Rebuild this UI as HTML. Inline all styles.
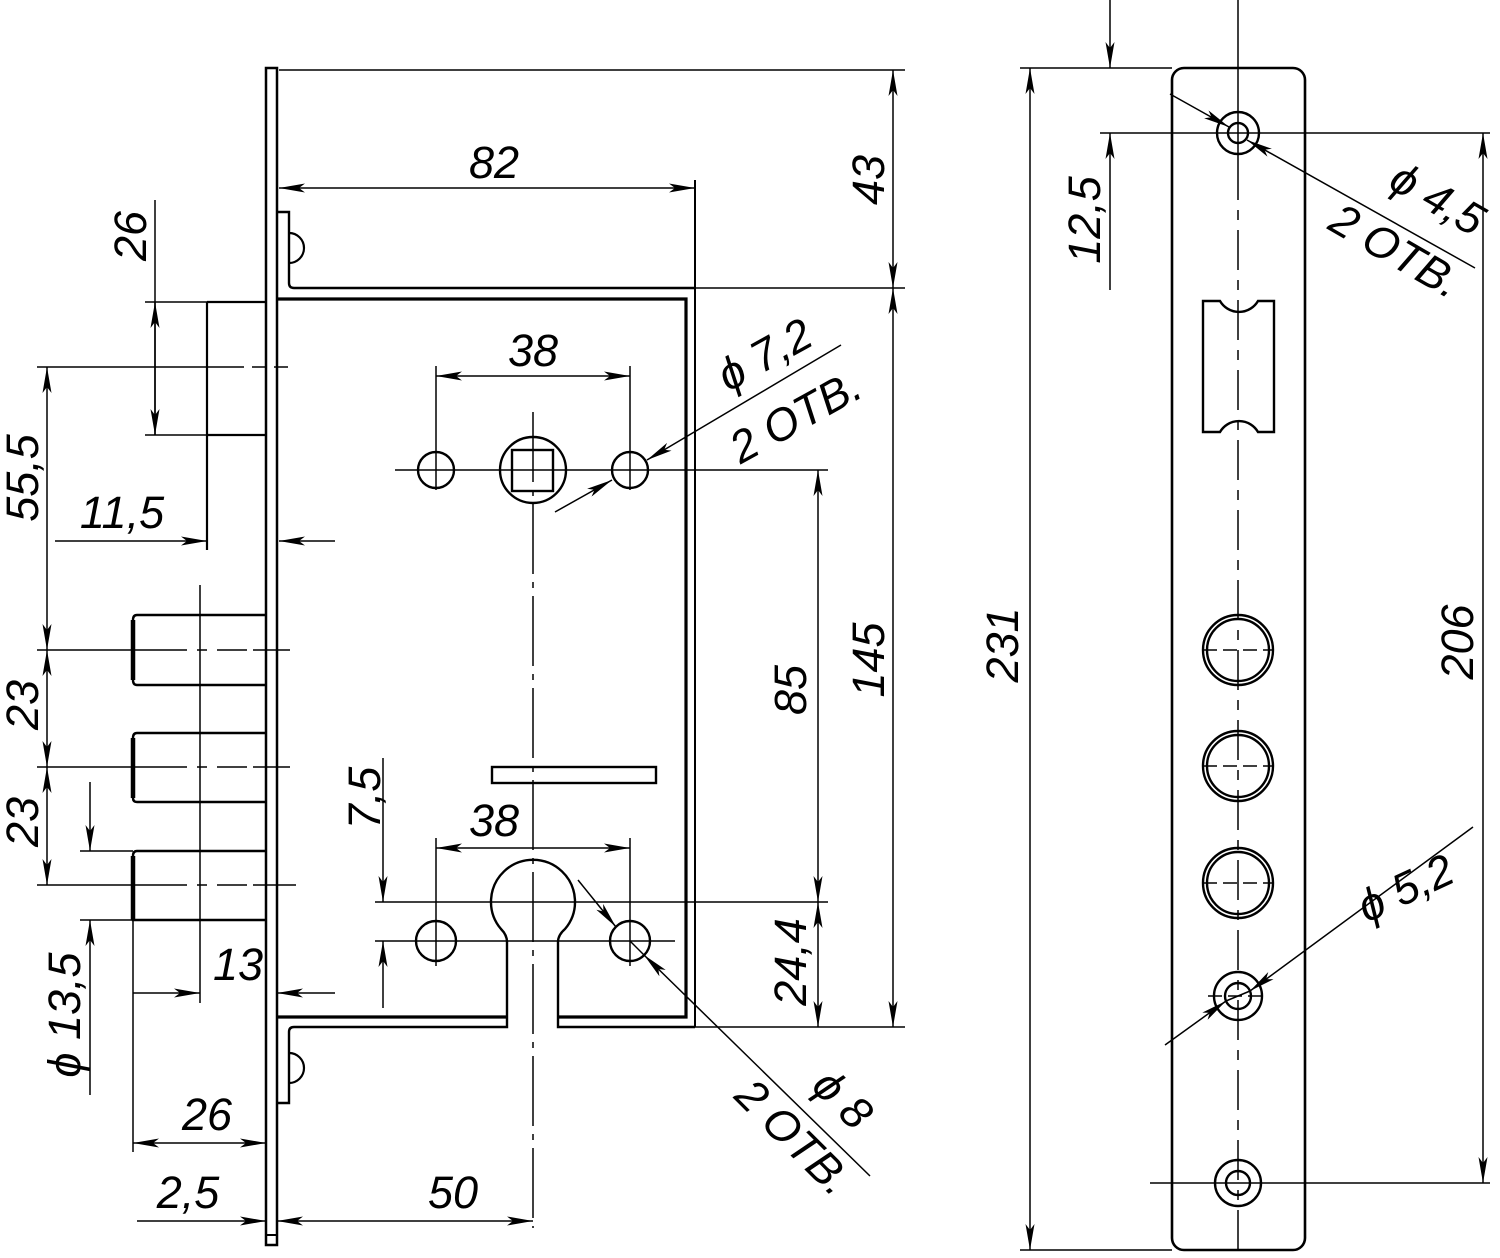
<!DOCTYPE html>
<html><head><meta charset="utf-8"><style>
html,body{margin:0;padding:0;background:#fff}
svg{display:block}
text{font-family:"Liberation Sans",sans-serif;font-style:italic;font-size:45px;fill:#000}
</style></head><body>
<svg width="1500" height="1258" viewBox="0 0 1500 1258" xmlns="http://www.w3.org/2000/svg">
<defs>
<marker id="a" viewBox="0 0 26 9" refX="26" refY="4.5" markerWidth="26" markerHeight="9" markerUnits="userSpaceOnUse" orient="auto-start-reverse">
<path d="M0,0 L26,4.5 L0,9 L6,4.5 z" fill="#000"/></marker>
</defs>
<g fill="none" stroke="#000" stroke-width="1.8">
<!-- LEFT VIEW -->
<rect x="266" y="68" width="11" height="1177" stroke-width="2.5"/>
<line x1="266" y1="1235" x2="277" y2="1235" stroke-width="2"/>
<path d="M277,212 H289 V283 Q289,288 294,288 H695" stroke-width="2.4"/>
<path d="M289,233 A15,15 0 0 1 289,263" stroke-width="2.2"/>
<path d="M277,299 H686 V1017 H558" stroke-width="3.2"/>
<path d="M277,1017 H507" stroke-width="3.2"/>
<path d="M277,1103 H289 V1032 Q289,1027 294,1027 H507 V942 Q507,935 501,929 A42,42 0 1 1 565,929 Q558,935 558,942 V1027 H695" stroke-width="2.4"/>
<path d="M289,1053 A15,15 0 0 1 289,1083" stroke-width="2.2"/>
<line x1="695" y1="180" x2="695" y2="1027" stroke-width="2"/>
<rect x="492" y="767" width="164" height="16" stroke-width="2.4"/>
<circle cx="436" cy="470" r="18" stroke-width="2.4"/>
<circle cx="630" cy="470" r="18" stroke-width="2.4"/>
<circle cx="533" cy="470" r="33" stroke-width="2.4"/>
<rect x="512" y="450" width="41" height="41" stroke-width="2.4"/>
<circle cx="436" cy="941" r="20" stroke-width="2.4"/>
<circle cx="630" cy="941" r="20" stroke-width="2.4"/>
<line x1="395" y1="470" x2="828" y2="470" stroke-width="1.5"/>
<line x1="533" y1="412" x2="533" y2="1228" stroke-width="1.5" stroke-dasharray="70,8,6,8"/>
<line x1="436" y1="366" x2="436" y2="490" stroke-width="1.5"/>
<line x1="630" y1="366" x2="630" y2="490" stroke-width="1.5"/>
<line x1="375" y1="902" x2="828" y2="902" stroke-width="1.5"/>
<line x1="375" y1="941" x2="675" y2="941" stroke-width="1.5"/>
<line x1="436" y1="838" x2="436" y2="966" stroke-width="1.5"/>
<line x1="630" y1="838" x2="630" y2="966" stroke-width="1.5"/>
<line x1="279" y1="70" x2="905" y2="70" stroke-width="1.5"/>
<line x1="695" y1="288" x2="905" y2="288" stroke-width="1.5"/>
<line x1="695" y1="1027" x2="905" y2="1027" stroke-width="1.5"/>
<line x1="893" y1="70" x2="893" y2="288" stroke-width="1.5" marker-start="url(#a)" marker-end="url(#a)"/>
<line x1="893" y1="288" x2="893" y2="1027" stroke-width="1.5" marker-start="url(#a)" marker-end="url(#a)"/>
<line x1="279" y1="188" x2="695" y2="188" stroke-width="1.5" marker-start="url(#a)" marker-end="url(#a)"/>
<line x1="436" y1="376" x2="630" y2="376" stroke-width="1.5" marker-start="url(#a)" marker-end="url(#a)"/>
<line x1="436" y1="848" x2="630" y2="848" stroke-width="1.5" marker-start="url(#a)" marker-end="url(#a)"/>
<line x1="818" y1="470" x2="818" y2="902" stroke-width="1.5" marker-start="url(#a)" marker-end="url(#a)"/>
<line x1="818" y1="902" x2="818" y2="1027" stroke-width="1.5" marker-start="url(#a)" marker-end="url(#a)"/>
<line x1="383" y1="758" x2="383" y2="902" stroke-width="1.5" marker-end="url(#a)"/>
<line x1="383" y1="1008" x2="383" y2="941" stroke-width="1.5" marker-end="url(#a)"/>
<line x1="555" y1="512" x2="612" y2="480" stroke-width="1.5" marker-end="url(#a)"/>
<line x1="841" y1="345" x2="647" y2="460" stroke-width="1.5" marker-end="url(#a)"/>
<line x1="578" y1="880" x2="616" y2="927" stroke-width="1.5" marker-end="url(#a)"/>
<line x1="870" y1="1176" x2="644" y2="955" stroke-width="1.5" marker-end="url(#a)"/>
<line x1="630" y1="941" x2="645" y2="956" stroke-width="1.5"/>
<path d="M207,302 H266 M207,435 H266" stroke-width="2.2"/>
<line x1="207" y1="302" x2="207" y2="550" stroke-width="2.2"/>
<line x1="145" y1="302" x2="207" y2="302" stroke-width="1.5"/>
<line x1="145" y1="435" x2="207" y2="435" stroke-width="1.5"/>
<line x1="155" y1="200" x2="155" y2="435" stroke-width="1.5" marker-end="url(#a)"/>
<line x1="155" y1="435" x2="155" y2="302" stroke-width="1.5" marker-end="url(#a)"/>
<line x1="37" y1="367" x2="230" y2="367" stroke-width="1.5"/>
<line x1="230" y1="367" x2="290" y2="367" stroke-width="1.5" stroke-dasharray="14,8"/>
<line x1="47" y1="367" x2="47" y2="650" stroke-width="1.5" marker-start="url(#a)" marker-end="url(#a)"/>
<line x1="47" y1="650" x2="47" y2="767" stroke-width="1.5" marker-start="url(#a)" marker-end="url(#a)"/>
<line x1="47" y1="767" x2="47" y2="885" stroke-width="1.5" marker-start="url(#a)" marker-end="url(#a)"/>
<line x1="55" y1="541" x2="207" y2="541" stroke-width="1.5" marker-end="url(#a)"/>
<line x1="335" y1="541" x2="279" y2="541" stroke-width="1.5" marker-end="url(#a)"/>
<path d="M266,615 H137 Q133,615 133,620 V680 Q133,685 137,685 H266" stroke-width="2.4"/>
<path d="M266,733 H137 Q133,733 133,738 V798 Q133,802 137,802 H266" stroke-width="2.4"/>
<path d="M266,851 H137 Q133,851 133,856 V920 H266" stroke-width="2.4"/>
<path d="M133,620 V680 M133,738 V798 M133,856 V920" stroke-width="4.5"/>
<line x1="200" y1="585" x2="200" y2="1003" stroke-width="1.5"/>
<line x1="37" y1="650" x2="290" y2="650" stroke-width="1.5" stroke-dasharray="150,10,10,10,30,6"/>
<line x1="37" y1="767" x2="290" y2="767" stroke-width="1.5" stroke-dasharray="150,10,10,10,30,6"/>
<line x1="37" y1="885" x2="296" y2="885" stroke-width="1.5" stroke-dasharray="150,10,10,10,30,6"/>
<line x1="80" y1="851" x2="133" y2="851" stroke-width="1.5"/>
<line x1="80" y1="920" x2="133" y2="920" stroke-width="1.5"/>
<line x1="90" y1="782" x2="90" y2="851" stroke-width="1.5" marker-end="url(#a)"/>
<line x1="90" y1="1095" x2="90" y2="920" stroke-width="1.5" marker-end="url(#a)"/>
<line x1="133" y1="920" x2="133" y2="1152" stroke-width="1.5"/>
<line x1="133" y1="993" x2="200" y2="993" stroke-width="1.5" marker-end="url(#a)"/>
<line x1="335" y1="993" x2="277" y2="993" stroke-width="1.5" marker-end="url(#a)"/>
<line x1="133" y1="1143" x2="266" y2="1143" stroke-width="1.5" marker-start="url(#a)" marker-end="url(#a)"/>
<line x1="137" y1="1221" x2="266" y2="1221" stroke-width="1.5" marker-end="url(#a)"/>
<line x1="277" y1="1221" x2="533" y2="1221" stroke-width="1.5" marker-start="url(#a)" marker-end="url(#a)"/>

<!-- RIGHT VIEW -->
<rect x="1172" y="68" width="133" height="1182" rx="12" stroke-width="2.6"/>
<line x1="1238" y1="0" x2="1238" y2="160" stroke-width="1.5"/>
<line x1="1238" y1="160" x2="1238" y2="1258" stroke-width="1.5" stroke-dasharray="40,10,10,10"/>
<circle cx="1238" cy="133" r="21" stroke-width="2.4"/>
<circle cx="1238" cy="133" r="10" stroke-width="2.4"/>
<line x1="1100" y1="133" x2="1490" y2="133" stroke-width="1.5"/>
<line x1="1020" y1="68" x2="1172" y2="68" stroke-width="1.5"/>
<line x1="1020" y1="1250" x2="1172" y2="1250" stroke-width="1.5"/>
<line x1="1110" y1="0" x2="1110" y2="68" stroke-width="1.5" marker-end="url(#a)"/>
<line x1="1110" y1="290" x2="1110" y2="133" stroke-width="1.5" marker-end="url(#a)"/>
<line x1="1030" y1="68" x2="1030" y2="1250" stroke-width="1.5" marker-start="url(#a)" marker-end="url(#a)"/>
<line x1="1483" y1="133" x2="1483" y2="1183" stroke-width="1.5" marker-start="url(#a)" marker-end="url(#a)"/>
<line x1="1150" y1="1183" x2="1490" y2="1183" stroke-width="1.5"/>
<path d="M1203,301 H1220 A22,22 0 0 0 1258,301 H1274 V432 H1258 A22,22 0 0 0 1220,432 H1203 Z" stroke-width="2.4"/>
<g stroke-width="2.4">
<circle cx="1238" cy="650" r="35"/><circle cx="1238" cy="650" r="31"/>
<circle cx="1238" cy="766" r="35"/><circle cx="1238" cy="766" r="31"/>
<circle cx="1238" cy="883" r="35"/><circle cx="1238" cy="883" r="31"/>
<circle cx="1238" cy="996" r="24"/><circle cx="1238" cy="996" r="13"/>
<circle cx="1238" cy="1183" r="23"/><circle cx="1238" cy="1183" r="12"/>
</g>
<path d="M1203,650 H1273 M1203,766 H1273 M1203,883 H1273 M1208,996 H1268" stroke-width="1.5" stroke-dasharray="14,6"/>
<line x1="1170" y1="94" x2="1229" y2="127" stroke-width="1.5" marker-end="url(#a)"/>
<line x1="1475" y1="268" x2="1247" y2="140" stroke-width="1.5" marker-end="url(#a)"/>
<line x1="1165" y1="1045" x2="1226" y2="1001" stroke-width="1.5" marker-end="url(#a)"/>
<line x1="1473" y1="827" x2="1250" y2="991" stroke-width="1.5" marker-end="url(#a)"/>
<line x1="1226" y1="1001" x2="1250" y2="991" stroke-width="1.5"/>
</g>

<!-- TEXT -->
<text x="494" y="178" text-anchor="middle">82</text>
<text transform="translate(884,180) rotate(-90)" text-anchor="middle">43</text>
<text transform="translate(884,660) rotate(-90)" text-anchor="middle">145</text>
<text transform="translate(806,690) rotate(-90)" text-anchor="middle">85</text>
<text transform="translate(806,962) rotate(-90)" text-anchor="middle">24,4</text>
<text x="533" y="366" text-anchor="middle">38</text>
<text x="494" y="836" text-anchor="middle">38</text>
<text transform="translate(380,798) rotate(-90)" text-anchor="middle">7,5</text>
<text transform="translate(772,368) rotate(-29)" text-anchor="middle">ϕ 7,2</text>
<text transform="translate(803,430) rotate(-29)" text-anchor="middle">2 ОТВ.</text>
<text transform="translate(832,1110) rotate(45)" text-anchor="middle">ϕ 8</text>
<text transform="translate(783,1148) rotate(45)" text-anchor="middle">2 ОТВ.</text>
<text transform="translate(146,236) rotate(-90)" text-anchor="middle">26</text>
<text transform="translate(38,478) rotate(-90)" text-anchor="middle">55,5</text>
<text x="122" y="528" text-anchor="middle">11,5</text>
<text transform="translate(38,705) rotate(-90)" text-anchor="middle">23</text>
<text transform="translate(38,822) rotate(-90)" text-anchor="middle">23</text>
<text transform="translate(80,1015) rotate(-90)" text-anchor="middle">ϕ 13,5</text>
<text x="238" y="980" text-anchor="middle">13</text>
<text x="207" y="1130" text-anchor="middle">26</text>
<text x="188" y="1208" text-anchor="middle">2,5</text>
<text x="453" y="1208" text-anchor="middle">50</text>
<text transform="translate(1100,220) rotate(-90)" text-anchor="middle">12,5</text>
<text transform="translate(1018,645) rotate(-90)" text-anchor="middle">231</text>
<text transform="translate(1473,642) rotate(-90)" text-anchor="middle">206</text>
<text transform="translate(1430,212) rotate(30)" text-anchor="middle">ϕ 4,5</text>
<text transform="translate(1388,264) rotate(30)" text-anchor="middle">2 ОТВ.</text>
<text transform="translate(1412,902) rotate(-25)" text-anchor="middle">ϕ 5,2</text>
</svg>
</body></html>
